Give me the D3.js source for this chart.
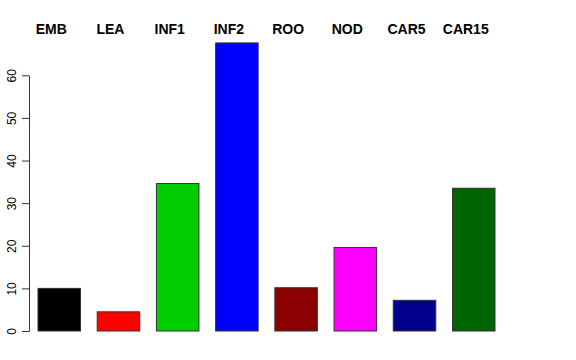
<!DOCTYPE html>
<html lang="en">
<head>
<meta charset="utf-8">
<title>Bar chart</title>
<script src="https://d3js.org/d3.v7.min.js"></script>
<style>
  body { margin: 0; background: #fff; }
  svg { display: block; font-family: "Liberation Sans", Arial, Helvetica, sans-serif; }
  .label { font-size: 14px; font-weight: bold; fill: #000; }
  .yaxis text { font-size: 12px; fill: #000; }
</style>
</head>
<body>
<div id="chart"></div>
<script>
// data
var categories = ["EMB", "LEA", "INF1", "INF2", "ROO", "NOD", "CAR5", "CAR15"];
var values = [10.0, 4.5, 34.6, 67.6, 10.15, 19.6, 7.2, 33.5];
var colors = ["#000000", "#ff0000", "#00cd00", "#0000ff", "#8b0000", "#ff00ff", "#00008b", "#006400"];
var yTicks = [0, 10, 20, 30, 40, 50, 60];

var width = 576, height = 360;

var svg = d3.select("#chart")
  .append("svg")
    .attr("width", width)
    .attr("height", height);

// scales
var x = d3.scaleBand()
  .domain(categories)
  .range([38, 495])
  .paddingInner(0.282)
  .paddingOuter(0);

var y = d3.scaleLinear()
  .domain([0, 60])
  .range([331, 75.3]);

// bars
svg.selectAll("rect.bar")
  .data(categories)
  .enter()
  .append("rect")
    .attr("class", "bar")
    .attr("x", function(d) { return x(d); })
    .attr("y", function(d, i) { return y(values[i]); })
    .attr("width", x.bandwidth())
    .attr("height", function(d, i) { return y(0) - y(values[i]); })
    .attr("fill", function(d, i) { return colors[i]; })
    .attr("stroke", "#333")
    .attr("stroke-width", 1);

// category labels along the top
svg.selectAll("text.label")
  .data(categories)
  .enter()
  .append("text")
    .attr("class", "label")
    .attr("x", function(d) { return x(d) + x.bandwidth() / 2 - 8; })
    .attr("y", 34)
    .attr("text-anchor", "middle")
    .text(function(d) { return d; });

// y axis, R style with rotated tick labels
var yAxis = svg.append("g")
  .attr("class", "yaxis")
  .attr("transform", "translate(29,0)")
  .call(d3.axisLeft(y).tickValues(yTicks).tickSize(7).tickPadding(0).tickSizeOuter(0));

yAxis.select(".domain").attr("stroke", "#333");
yAxis.selectAll(".tick line").attr("stroke", "#333");
yAxis.selectAll(".tick text")
  .attr("x", null)
  .attr("dy", null)
  .attr("text-anchor", "middle")
  .attr("transform", "translate(-13,0) rotate(-90)")
  .attr("y", 0);
</script>
</body>
</html>
